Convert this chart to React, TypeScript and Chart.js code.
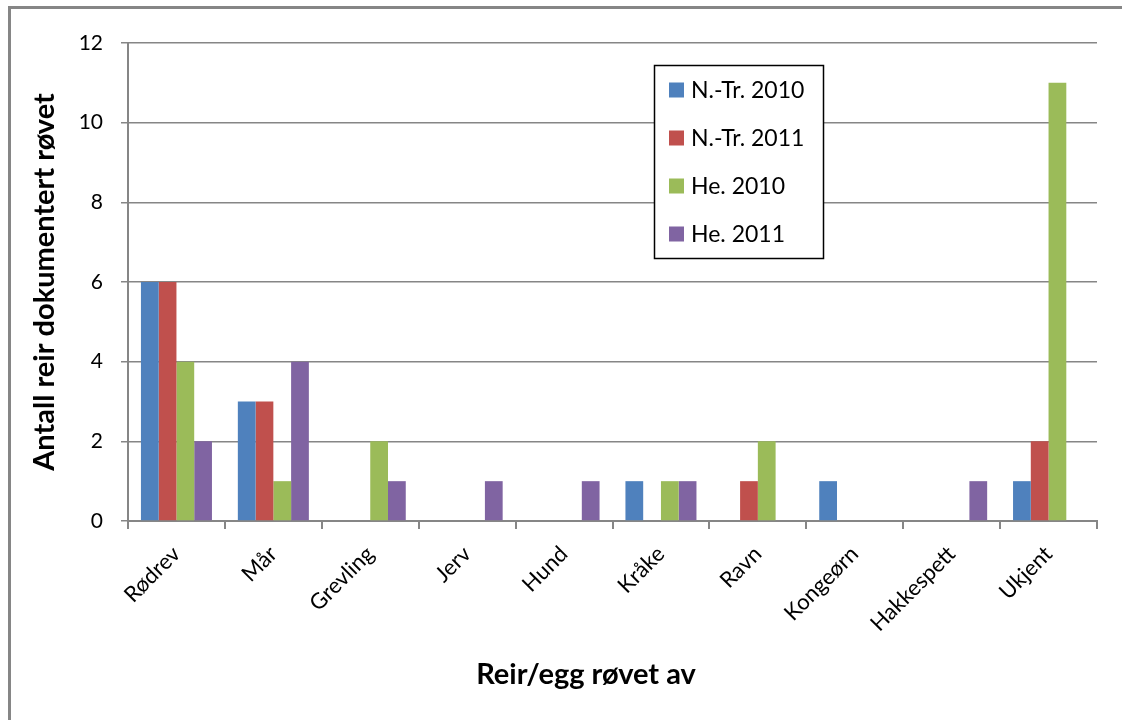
import React, { useEffect, useRef } from "react";
import { Chart, registerables } from "chart.js";

Chart.register(...registerables);

const categories = ["Rødrev", "Mår", "Grevling", "Jerv", "Hund", "Kråke", "Ravn", "Kongeørn", "Hakkespett", "Ukjent"];
const seriesNames = ["N.-Tr. 2010", "N.-Tr. 2011", "He. 2010", "He. 2011"];
const ntr2010 = [6, 3, 0, 0, 0, 1, 0, 1, 0, 1];
const ntr2011 = [6, 3, 0, 0, 0, 0, 1, 0, 0, 2];
const he2010 = [4, 1, 2, 0, 0, 1, 2, 0, 0, 11];
const he2011 = [2, 4, 1, 1, 1, 1, 0, 0, 1, 0];
const seriesColors = ["#4F81BD", "#C0504D", "#9BBB59", "#8064A2"];
const yTitle = "Antall reir dokumentert røvet";
const xTitle = "Reir/egg røvet av";

const FONT = "Lato, 'Open Sans', sans-serif";
const GRID = "#868686";

export default function App() {
  const ref = useRef<HTMLCanvasElement | null>(null);

  useEffect(() => {
    if (!ref.current) return;
    const values = [ntr2010, ntr2011, he2010, he2011];

    const framePlugin = {
      id: "frame",
      beforeDraw(chart: any) {
        const ctx = chart.ctx;
        ctx.save();
        ctx.fillStyle = "#ffffff";
        ctx.fillRect(0, 0, chart.width, chart.height);
        ctx.strokeStyle = GRID;
        ctx.lineWidth = 3;
        ctx.beginPath();
        ctx.moveTo(9.5, chart.height);
        ctx.lineTo(9.5, 7.5);
        ctx.lineTo(chart.width, 7.5);
        ctx.stroke();
        ctx.restore();
      },
    };

    const overlayPlugin = {
      id: "overlay",
      afterDraw(chart: any) {
        const ctx = chart.ctx;
        ctx.save();
        // legend box
        const bx = 654.5, by = 65.5, bw = 169, bh = 193;
        ctx.fillStyle = "#ffffff";
        ctx.fillRect(bx, by, bw, bh);
        ctx.strokeStyle = "#000000";
        ctx.lineWidth = 1.5;
        ctx.strokeRect(bx, by, bw, bh);
        ctx.font = `23px ${FONT}`;
        ctx.textBaseline = "middle";
        ctx.textAlign = "left";
        chart.data.datasets.forEach((ds: any, i: number) => {
          const cy = 90 + i * 48;
          ctx.fillStyle = ds.backgroundColor;
          ctx.fillRect(669, cy - 7.5, 15, 15);
          ctx.fillStyle = "#000000";
          ctx.fillText(ds.label, 691, cy + 1);
        });
        // x axis title
        ctx.font = `bold 29px ${FONT}`;
        ctx.textAlign = "center";
        ctx.fillText(xTitle, 586, 675);
        ctx.restore();
      },
    };

    const chart = new Chart(ref.current, {
      type: "bar",
      data: {
        labels: categories,
        datasets: seriesNames.map((name, i) => ({
          label: name,
          data: values[i],
          backgroundColor: seriesColors[i],
          borderWidth: 0,
          categoryPercentage: 0.733,
          barPercentage: 1,
        })),
      },
      options: {
        responsive: false,
        animation: false,
        devicePixelRatio: 1,
        layout: { padding: { left: 0, top: 43, right: 25, bottom: 0 } },
        plugins: {
          legend: { display: false },
          tooltip: { enabled: false },
        },
        scales: {
          x: {
            afterFit: (s: any) => {
              s.height = 199;
            },
            grid: {
              offset: true,
              drawOnChartArea: false,
              drawTicks: true,
              tickLength: 8,
              color: GRID,
              lineWidth: 2,
            },
            border: { display: true, color: GRID, width: 2 },
            ticks: {
              minRotation: 45,
              maxRotation: 45,
              autoSkip: false,
              padding: 12,
              color: "#000000",
              font: { family: FONT, size: 22 },
            },
          },
          y: {
            min: 0,
            max: 12,
            afterFit: (s: any) => {
              s.width = 128;
            },
            grid: {
              color: GRID,
              lineWidth: 1.5,
              tickLength: 7,
            },
            border: { display: true, color: GRID, width: 2 },
            ticks: {
              stepSize: 2,
              padding: 18,
              color: "#000000",
              font: { family: FONT, size: 21 },
            },
            title: {
              display: true,
              text: yTitle,
              color: "#000000",
              font: { family: FONT, size: 29, weight: "bold" },
              padding: { top: 27, bottom: 0 },
            },
          },
        },
      },
      plugins: [framePlugin, overlayPlugin],
    });
    return () => chart.destroy();
  }, []);

  return (
    <div style={{ position: "fixed", left: 0, top: 0, width: 1122, height: 720 }}>
      <canvas ref={ref} width={1122} height={720} style={{ width: 1122, height: 720, display: "block" }} />
    </div>
  );
}
